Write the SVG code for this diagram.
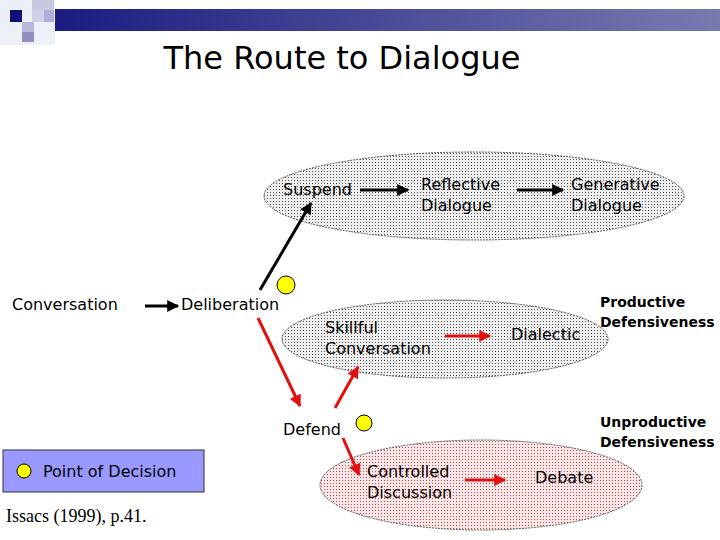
<svg xmlns="http://www.w3.org/2000/svg" width="720" height="540" viewBox="0 0 720 540">
<style>
.t{font-family:"DejaVu Sans",Verdana,sans-serif;font-size:16px;fill:#000}
.b{font-family:"DejaVu Sans",Verdana,sans-serif;font-size:14px;font-weight:bold;fill:#000}
.k{stroke:#000;stroke-width:3;fill:none}
.r{stroke:#e01010;stroke-width:3;fill:none}
.y{fill:#ffff00;stroke:#000;stroke-width:1}
</style>
<defs>
<linearGradient id="bar" x1="0" x2="1"><stop offset="0" stop-color="#1a1a80"/><stop offset="1" stop-color="#7a7ab0"/></linearGradient>
<pattern id="pg" width="3" height="3" patternUnits="userSpaceOnUse"><rect width="3" height="3" fill="#eeeeee"/><rect width="1" height="1" fill="#555"/></pattern>
<pattern id="pp" width="3" height="3" patternUnits="userSpaceOnUse"><rect width="3" height="3" fill="#fae6e6"/><rect width="1" height="1" fill="#b05050"/></pattern>
<marker id="ak" viewBox="0 0 10 10" refX="9" refY="5" markerWidth="4.5" markerHeight="4" orient="auto"><path d="M0,0L10,5L0,10z" fill="#000"/></marker>
<marker id="ar" viewBox="0 0 10 10" refX="9" refY="5" markerWidth="4.5" markerHeight="4" orient="auto"><path d="M0,0L10,5L0,10z" fill="#e01010"/></marker>
</defs>
<g id="header">
<rect x="42" y="9" width="678" height="22" fill="url(#bar)"/>
<rect x="0" y="0" width="55" height="45" fill="#eef0f8"/>
<rect x="32" y="0" width="22" height="10" fill="#c8c8e0"/>
<rect x="10" y="10" width="12" height="12" fill="#10107a"/>
<rect x="32" y="10" width="12" height="12" fill="#d0d0e8"/>
<rect x="44" y="10" width="10" height="12" fill="#b0b0d8"/>
<rect x="22" y="22" width="12" height="10" fill="#b8b8d8"/>
<rect x="22" y="32" width="12" height="10" fill="#9090c0"/>
</g>
<text x="342" y="69" text-anchor="middle" style="font-family:'DejaVu Sans',sans-serif;font-size:32px">The Route to Dialogue</text>
<g id="top-ellipse"><ellipse cx="474" cy="196" rx="210" ry="44" fill="url(#pg)" stroke="#555" stroke-dasharray="2,1"/></g>
<g id="mid-ellipse"><ellipse cx="445" cy="339" rx="163" ry="39" fill="url(#pg)" stroke="#555" stroke-dasharray="2,1"/></g>
<g id="bot-ellipse"><ellipse cx="481" cy="485" rx="161" ry="45" fill="url(#pp)" stroke="#555" stroke-dasharray="2,1"/></g>
<g id="connectors">
<line class="k" x1="145" y1="306" x2="178" y2="306" marker-end="url(#ak)"/>
<line class="k" x1="260" y1="290" x2="311" y2="203" marker-end="url(#ak)"/>
<line class="k" x1="360" y1="190" x2="408" y2="190" marker-end="url(#ak)"/>
<line class="k" x1="517" y1="190" x2="563" y2="190" marker-end="url(#ak)"/>
<line class="r" x1="258" y1="318" x2="300" y2="406" marker-end="url(#ar)"/>
<line class="r" x1="335" y1="408" x2="358" y2="367" marker-end="url(#ar)"/>
<line class="r" x1="445" y1="336" x2="490" y2="336" marker-end="url(#ar)"/>
<line class="r" x1="343" y1="438" x2="359" y2="475" marker-end="url(#ar)"/>
<line class="r" x1="465" y1="480" x2="505" y2="480" marker-end="url(#ar)"/>
</g>
<g id="conversation"><text class="t" x="12" y="310">Conversation</text></g>
<g id="deliberation"><text class="t" x="181" y="310">Deliberation</text><circle class="y" cx="286" cy="285" r="9"/></g>
<g id="suspend"><text class="t" x="283" y="195">Suspend</text></g>
<g id="reflective"><text class="t" x="421" y="190">Reflective</text><text class="t" x="421" y="211">Dialogue</text></g>
<g id="generative"><text class="t" x="571" y="190">Generative</text><text class="t" x="571" y="211">Dialogue</text></g>
<g id="skillful"><text class="t" x="325" y="333">Skillful</text><text class="t" x="325" y="354">Conversation</text></g>
<g id="dialectic"><text class="t" x="511" y="340">Dialectic</text></g>
<g id="productive"><text class="b" x="600" y="307">Productive</text><text class="b" x="600" y="327">Defensiveness</text></g>
<g id="defend"><text class="t" x="283" y="435">Defend</text><circle class="y" cx="364" cy="423" r="8"/></g>
<g id="unproductive"><text class="b" x="600" y="427">Unproductive</text><text class="b" x="600" y="447">Defensiveness</text></g>
<g id="controlled"><text class="t" x="367" y="477">Controlled</text><text class="t" x="367" y="498">Discussion</text></g>
<g id="debate"><text class="t" x="535" y="483">Debate</text></g>
<g id="legend"><rect x="3" y="450" width="201" height="42" fill="#9999ff" stroke="#333"/><circle class="y" cx="24" cy="471" r="7"/><text class="t" x="43" y="477">Point of Decision</text></g>
<text x="6" y="522" style="font-family:'Liberation Serif',serif;font-size:18px">Issacs (1999), p.41.</text>
</svg>
